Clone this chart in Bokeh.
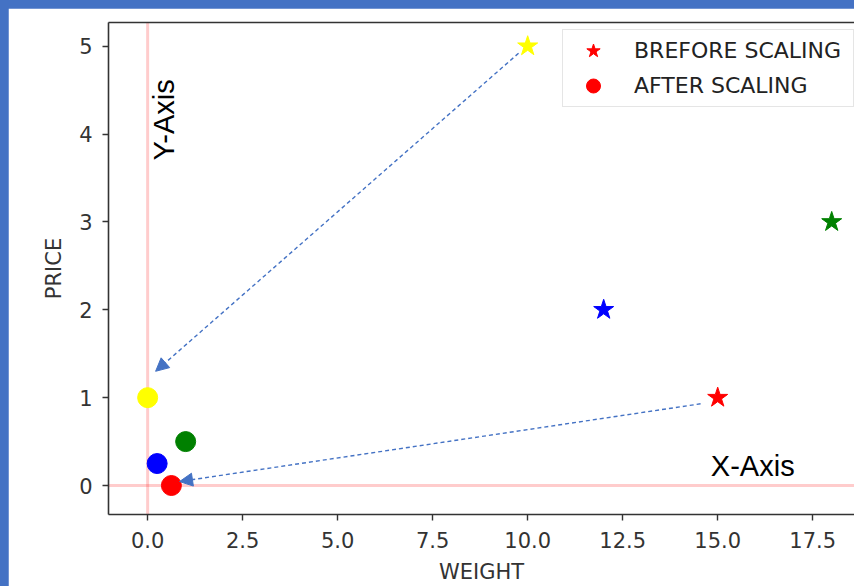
import math
from bokeh.plotting import figure
from bokeh.models import (Span, Label, Arrow, NormalHead, LinearAxis, FixedTicker,
                          Legend, LegendItem, ColumnDataSource, PrintfTickFormatter, Range1d)
from bokeh.embed import file_html
from bokeh.resources import INLINE

# data
weight_before = [10, 12, 15, 18]
price_before = [5, 2, 1, 3]
weight_after = [0.0, 0.25, 0.625, 1.0]
price_after = [1.0, 0.25, 0.0, 0.5]
point_colors = ["yellow", "blue", "red", "green"]

x_ticks = [0.0, 2.5, 5.0, 7.5, 10.0, 12.5, 15.0, 17.5]
y_ticks = [0, 1, 2, 3, 4, 5]

# annotation arrows (start -> end, in data units)
arrow_x_start = [9.76, 14.55]
arrow_y_start = [4.92, 0.93]
arrow_x_end = [0.21, 0.84]
arrow_y_end = [1.30, 0.045]

TICK_FONT = "DejaVu Sans"
TXT = "#333333"

p = figure(width=846, height=578, output_backend="svg", toolbar_location=None,
           x_range=Range1d(-1.03, 18.6), y_range=Range1d(-0.33, 5.27),
           min_border_left=100, min_border_right=0, min_border_top=14, min_border_bottom=71,
           background_fill_color="white", border_fill_color="white")
p.outline_line_color = None
p.grid.visible = False

for ax in (p.xaxis[0], p.yaxis[0]):
    ax.axis_line_color = "#333333"
    ax.axis_line_width = 1.6
    ax.major_tick_line_color = "#333333"
    ax.major_tick_line_width = 1.4
    ax.major_tick_out = 6
    ax.major_tick_in = 0
    ax.minor_tick_line_color = None
    ax.major_label_text_font = TICK_FONT
    ax.major_label_text_font_size = "21px"
    ax.major_label_text_color = TXT
    ax.axis_label_text_font = TICK_FONT
    ax.axis_label_text_font_size = "21px"
    ax.axis_label_text_font_style = "normal"
    ax.axis_label_text_color = TXT

p.xaxis.ticker = FixedTicker(ticks=x_ticks)
p.xaxis.formatter = PrintfTickFormatter(format="%.1f")
p.yaxis.ticker = FixedTicker(ticks=y_ticks)
p.xaxis.major_label_standoff = 11
p.yaxis.major_label_standoff = 10
p.xaxis.axis_label = "WEIGHT"
p.yaxis.axis_label = "PRICE"
p.xaxis.axis_label_standoff = 9
p.yaxis.axis_label_standoff = 10

top = LinearAxis(ticker=FixedTicker(ticks=[]), axis_line_color="#333333", axis_line_width=1.6,
                 major_tick_line_color=None, minor_tick_line_color=None,
                 major_label_standoff=0)
p.add_layout(top, "above")

# pink reference axes
p.add_layout(Span(location=0, dimension="height", line_color="red", line_alpha=0.2,
                  line_width=3, level="underlay"))
p.add_layout(Span(location=0, dimension="width", line_color="red", line_alpha=0.2,
                  line_width=3, level="underlay"))

src_b = ColumnDataSource(dict(x=weight_before, y=price_before, c=point_colors))
src_a = ColumnDataSource(dict(x=weight_after, y=price_after, c=point_colors))
stars = p.scatter("x", "y", source=src_b, marker="star", size=21,
                  fill_color="c", line_color="c")
dots = p.scatter("x", "y", source=src_a, marker="circle", size=20,
                 fill_color="c", line_color="c")

for xs, ys, xe, ye in zip(arrow_x_start, arrow_y_start, arrow_x_end, arrow_y_end):
    p.add_layout(Arrow(x_start=xs, y_start=ys, x_end=xe, y_end=ye,
                       line_color="#4472c4", line_width=1.4, line_dash="4 3",
                       end=NormalHead(size=13, fill_color="#4472c4", line_color="#4472c4")))

p.add_layout(Label(x=14.82, y=0.225, text="X-Axis", text_font="Liberation Sans",
                   text_font_size="29px", text_color="black", text_align="left",
                   text_baseline="alphabetic"))
p.add_layout(Label(x=0.44, y=3.70, text="Y-Axis", text_font="Liberation Sans",
                   text_font_size="29px", text_color="black", text_align="left",
                   text_baseline="alphabetic", angle=math.pi / 2))

legend = Legend(items=[LegendItem(label="BREFORE SCALING", renderers=[stars], index=2),
                       LegendItem(label="AFTER SCALING", renderers=[dots], index=2)],
                location=(454, 407))
legend.label_text_font = TICK_FONT
legend.label_text_font_size = "22px"
legend.label_text_color = "#222222"
legend.border_line_color = "#cccccc"
legend.border_line_width = 1.2
legend.background_fill_color = "white"
legend.background_fill_alpha = 0.9
legend.padding = 3
legend.spacing = 0
legend.glyph_width = 54
legend.glyph_height = 35
legend.label_height = 35
legend.label_width = 216
legend.label_standoff = 14
legend.margin = 0
p.add_layout(legend)

html = file_html(p, INLINE)
style = ("<style>html, body { background-color:#4472c4 !important; margin:0 !important; "
         "padding:0 !important; } body { padding:8px 0 0 8px !important; "
         "box-sizing:border-box !important; }</style>")
html = html.replace("</head>", style + "</head>", 1)
open("out.html", "w").write(html)
